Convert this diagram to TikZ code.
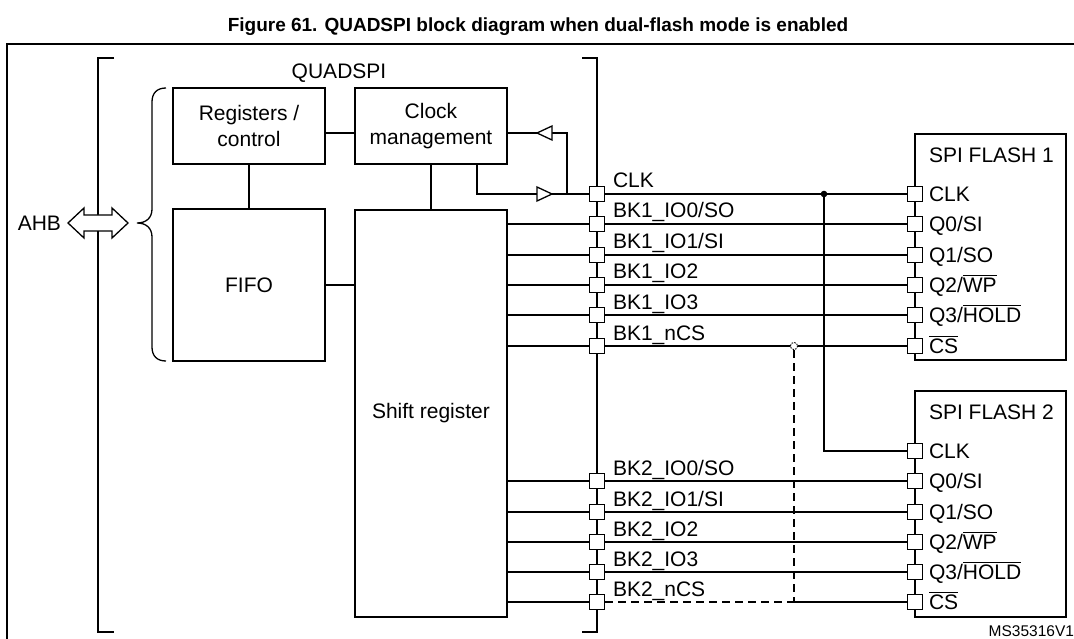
\documentclass[tikz,border=0pt]{standalone}
\usepackage{fontspec}
\setmainfont{Liberation Sans}
\newcommand\ovl[1]{\leavevmode\vbox{\hrule height 1.3pt\kern 1.6pt\hbox{#1}}}
\begin{document}
\begin{tikzpicture}[x=1pt,y=-1pt,
  every node/.style={inner sep=0pt, outer sep=0pt},
  lbl/.style={font=\fontsize{21}{27}\selectfont},
  blk/.style={draw, line width=2pt, align=center, font=\fontsize{21}{26}\selectfont, minimum width=152pt},
  pin/.style={draw, fill=white, line width=1.8pt, minimum size=15pt},
  wire/.style={line width=1.3pt},
  brk/.style={line width=2.4pt},
  dsh/.style={line width=1.3pt, dash pattern=on 8pt off 5pt},
  tri/.style={draw, fill=white, line width=1.3pt, line join=miter}]
\useasboundingbox (0,0) rectangle (1074,639);

% title and frame
\node[font=\fontsize{19}{23}\selectfont\bfseries] (title) at (538,27) {Figure 61. QUADSPI block diagram when dual-flash mode is enabled};
\draw[brk] (7,645) -- (7,44) -- (1080,44);

% brackets
\draw[brk] (114,58) -- (98,58) -- (98,632) -- (114,632);
\draw[brk] (582,58) -- (597,58) -- (597,632) -- (582,632);
\node[lbl] (qs) at (339,73) {QUADSPI};

% curly brace
\draw[wire] (166,88) .. controls (157,88) and (152,93) .. (152,102) -- (152,209)
  .. controls (152,218) and (146,223) .. (137,223)
  .. controls (146,223) and (152,228) .. (152,237) -- (152,347)
  .. controls (152,356) and (157,361) .. (166,361);

% AHB
\node[lbl, anchor=east] (ahb) at (61,223) {AHB};
\draw[tri] (68,223) -- (84,208) -- (84,215) -- (112,215) -- (112,208) -- (128,223)
  -- (112,238) -- (112,231) -- (84,231) -- (84,238) -- cycle;

% blocks
\node[blk, minimum height=76pt] (reg) at (249,126) {Registers /\\control};
\node[blk, minimum height=76pt] (clkm) at (431,126) {Clock\\management};
\node[blk, minimum height=152pt] (fifo) at (249,285) {FIFO};
\node[blk, minimum height=407pt] (shift) at (431,413.5) {Shift register};
\node[blk, minimum width=151pt, minimum height=226pt] (fl1) at (990.5,247) {};
\node[blk, minimum width=151pt, minimum height=226pt] (fl2) at (990.5,504) {};
\node[lbl, anchor=base west] (fl1t) at (929,162.5) {SPI FLASH 1};
\node[lbl, anchor=base west] (fl2t) at (929,419.5) {SPI FLASH 2};

% pin positions
\coordinate (a0) at (597,194);
\coordinate (a1) at (597,224);
\coordinate (a2) at (597,255);
\coordinate (a3) at (597,285);
\coordinate (a4) at (597,315);
\coordinate (a5) at (597,346);
\coordinate (b1) at (597,481);
\coordinate (b2) at (597,512);
\coordinate (b3) at (597,542);
\coordinate (b4) at (597,572);
\coordinate (b5) at (597,602);
\coordinate (c0) at (915,194);
\coordinate (c1) at (915,224);
\coordinate (c2) at (915,255);
\coordinate (c3) at (915,285);
\coordinate (c4) at (915,315);
\coordinate (c5) at (915,346);
\coordinate (d0) at (915,451);
\coordinate (d1) at (915,481);
\coordinate (d2) at (915,512);
\coordinate (d3) at (915,542);
\coordinate (d4) at (915,572);
\coordinate (d5) at (915,602);

% internal connections
\coordinate (ry) at (0,133);
\draw[wire] (reg.south) -- (fifo.north);
\draw[wire] (clkm.south) -- (shift.north);
\draw[wire] (fifo.east) -- (fifo.east -| shift.west);
\draw[wire] (reg.east |- ry) -- (clkm.west |- ry);

% clock path
\coordinate (kx) at (477,194);
\coordinate (t2a) at (537,194);
\coordinate (t2b) at (552,194);
\coordinate (fb) at (567,194);
\coordinate (fbt) at (567,133);
\coordinate (t1a) at (552,133);
\coordinate (t1b) at (537,133);
\draw[wire] (clkm.south -| kx) -- (kx) -- (t2a);
\draw[tri] (537,187) -- (552,194) -- (537,201) -- cycle;
\draw[wire] (t2b) -- (c0);
\draw[wire] (fb) -- (fbt) -- (t1a);
\draw[tri] (552,126) -- (537,133) -- (552,140) -- cycle;
\draw[wire] (t1b) -- (clkm.east |- ry);
\coordinate (jn) at (824,194);
\coordinate (jd) at (824,451);
\draw[wire] (jn) -- (jd) -- (d0);
\fill (jn) circle (3.3);

% data lines
\draw[wire] (shift.east |- a1) -- (c1);
\draw[wire] (shift.east |- a2) -- (c2);
\draw[wire] (shift.east |- a3) -- (c3);
\draw[wire] (shift.east |- a4) -- (c4);
\draw[wire] (shift.east |- a5) -- (c5);
\draw[wire] (shift.east |- b1) -- (d1);
\draw[wire] (shift.east |- b2) -- (d2);
\draw[wire] (shift.east |- b3) -- (d3);
\draw[wire] (shift.east |- b4) -- (d4);
\draw[wire] (shift.east |- b5) -- (b5);
\coordinate (dx) at (794,602);
\coordinate (dt) at (794,350);
\coordinate (dc) at (794,346);
\coordinate (ds) at (605,602);
\draw[dsh] (ds) -- (dx);
\draw[wire] (dx) -- (d5);
\draw[dsh] (dt) -- (dx);
\draw[line width=0.9pt, dash pattern=on 1.6pt off 1.2pt, fill=white] (dc) circle (3.6);

% pins
\foreach \p in {a0,a1,a2,a3,a4,a5,b1,b2,b3,b4,b5,c0,c1,c2,c3,c4,c5,d0,d1,d2,d3,d4,d5}
  \node[pin] (p\p) at (\p) {};

% pin labels (controller side)
\node[lbl, anchor=base west] (la0) at (613,188) {CLK};
\node[lbl, anchor=base west] (la1) at (613,218) {BK1\_IO0/SO};
\node[lbl, anchor=base west] (la2) at (613,249) {BK1\_IO1/SI};
\node[lbl, anchor=base west] (la3) at (613,279) {BK1\_IO2};
\node[lbl, anchor=base west] (la4) at (613,309) {BK1\_IO3};
\node[lbl, anchor=base west] (la5) at (613,340) {BK1\_nCS};
\node[lbl, anchor=base west] (lb1) at (613,475) {BK2\_IO0/SO};
\node[lbl, anchor=base west] (lb2) at (613,506) {BK2\_IO1/SI};
\node[lbl, anchor=base west] (lb3) at (613,536) {BK2\_IO2};
\node[lbl, anchor=base west] (lb4) at (613,566) {BK2\_IO3};
\node[lbl, anchor=base west] (lb5) at (613,596) {BK2\_nCS};

% pin labels (flash side)
\node[lbl, anchor=base west] (lc0) at (929,201.5) {CLK};
\node[lbl, anchor=base west] (lc1) at (929,231.5) {Q0/SI};
\node[lbl, anchor=base west] (lc2) at (929,262.5) {Q1/SO};
\node[lbl, anchor=base west] (lc3) at (929,292.5) {Q2/\ovl{WP}};
\node[lbl, anchor=base west] (lc4) at (929,322.5) {Q3/\ovl{HOLD}};
\node[lbl, anchor=base west] (lc5) at (929,353.5) {\ovl{CS}};
\node[lbl, anchor=base west] (ld0) at (929,458.5) {CLK};
\node[lbl, anchor=base west] (ld1) at (929,488.5) {Q0/SI};
\node[lbl, anchor=base west] (ld2) at (929,519.5) {Q1/SO};
\node[lbl, anchor=base west] (ld3) at (929,549.5) {Q2/\ovl{WP}};
\node[lbl, anchor=base west] (ld4) at (929,579.5) {Q3/\ovl{HOLD}};
\node[lbl, anchor=base west] (ld5) at (929,609.5) {\ovl{CS}};

\node[font=\fontsize{15.5}{18}\selectfont, anchor=base east] (ms) at (1074,636) {MS35316V1};
\end{tikzpicture}
\end{document}
